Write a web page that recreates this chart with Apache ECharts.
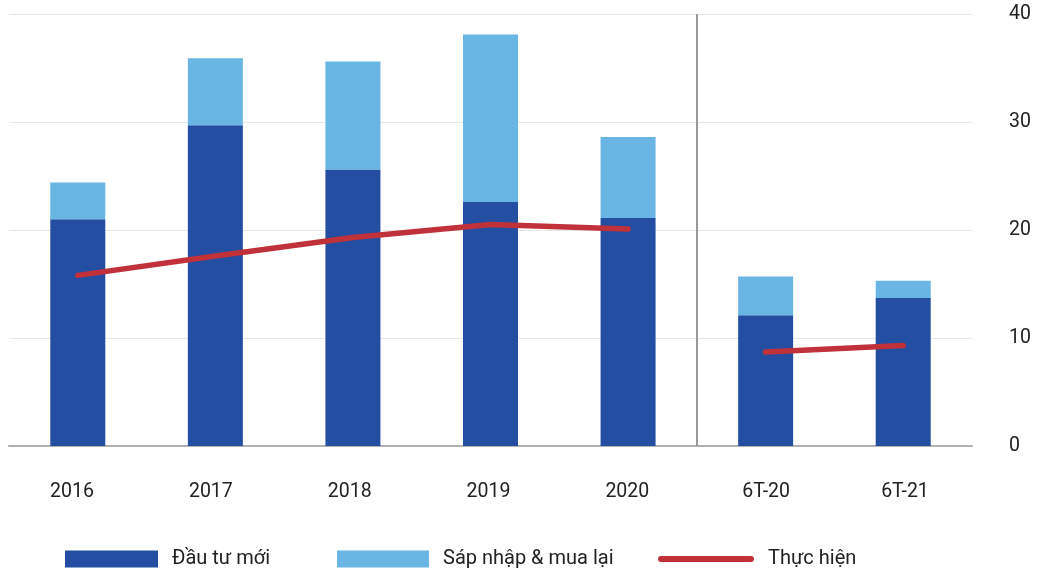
<!DOCTYPE html>
<html>
<head>
<meta charset="utf-8">
<script src="https://cdn.jsdelivr.net/npm/echarts@6/dist/echarts.min.js"></script>
<style>
  html, body { margin: 0; padding: 0; background: #fff; }
  #chart { width: 1040px; height: 573px; }
</style>
</head>
<body>
<div id="chart"></div>
<script>
// categories and values
const categories = ['2016', '2017', '2018', '2019', '2020', '6T-20', '6T-21']
const newInvest = [21.0, 29.7, 25.6, 22.6, 21.1, 12.1, 13.7]
const mergers   = [3.4, 6.2, 10.0, 15.5, 7.5, 3.6, 1.6]
// realised values, split so the line breaks between full years and half years
const realisedYears = [15.8, 17.6, 19.3, 20.5, 20.1, null, null]
const realisedHalf  = [null, null, null, null, null, 8.7, 9.3]

const DARK = '#234ea1'
const LIGHT = '#69b5e4'
const RED = '#c1313a'
const TEXT = '#222'
const FONT = 'Roboto'

const chart = echarts.init(document.getElementById('chart'))

const lineSeries = (data) => ({
  name: 'Thực hiện',
  type: 'line',
  data: data,
  symbol: 'none',
  connectNulls: false,
  lineStyle: { color: RED, width: 5.5, cap: 'round' },
  itemStyle: { color: RED },
  z: 5
})

const legendItem = (name, left, icon, width) => ({
  left: left,
  top: 549,
  padding: 0,
  itemWidth: width,
  itemHeight: 17,
  textStyle: { fontFamily: FONT, fontSize: 20, color: TEXT, padding: [0, 0, 0, 9] },
  data: [{ name: name, icon: icon }]
})

chart.setOption({
  animation: false,
  textStyle: { fontFamily: FONT },
  grid: [
    { left: 9, right: 68, top: 14, bottom: 127 },
    // labels only; the category labels sit on a slightly wider pitch than the bars
    { left: 2.6, right: 65.6, top: 14, bottom: 127 }
  ],
  legend: [
    legendItem('Đầu tư mới', 65, 'rect', 93),
    legendItem('Sáp nhập & mua lại', 337, 'rect', 92),
    legendItem('Thực hiện', 658, 'path://M3,0 H93 A3,3 0 0 1 93,6 H3 A3,3 0 0 1 3,0 Z', 96)
  ],
  xAxis: [
    {
      type: 'category',
      data: categories,
      gridIndex: 0,
      axisLine: { lineStyle: { color: '#b0b0b0', width: 2 } },
      axisTick: { show: false },
      axisLabel: { show: false },
      splitLine: { show: false }
    },
    {
      // hidden helper axis for the separator line
      type: 'value',
      gridIndex: 0,
      min: -0.5,
      max: 6.5,
      show: false
    },
    {
      type: 'category',
      data: categories,
      gridIndex: 1,
      axisLine: { show: false },
      axisTick: { show: false },
      axisLabel: { fontSize: 19.5, color: TEXT, margin: 36, fontFamily: FONT },
      splitLine: { show: false }
    }
  ],
  yAxis: [
    {
      type: 'value',
      gridIndex: 0,
      position: 'right',
      min: 0,
      max: 40,
      interval: 10,
      axisLine: { show: false },
      axisTick: { show: false },
      axisLabel: { fontSize: 19.5, color: TEXT, margin: 37, align: 'left', fontFamily: FONT },
      splitLine: { lineStyle: { color: '#e6e6e6', width: 1 } }
    },
    { type: 'value', gridIndex: 1, show: false }
  ],
  series: [
    {
      name: 'Đầu tư mới',
      type: 'bar',
      stack: 'total',
      barWidth: 55,
      data: newInvest,
      itemStyle: { color: DARK }
    },
    {
      name: 'Sáp nhập & mua lại',
      type: 'bar',
      stack: 'total',
      barWidth: 55,
      data: mergers,
      itemStyle: { color: LIGHT }
    },
    lineSeries(realisedYears),
    lineSeries(realisedHalf),
    {
      // separator between full years and half-year periods
      name: 'separator',
      type: 'scatter',
      xAxisIndex: 1,
      yAxisIndex: 0,
      data: [],
      markLine: {
        silent: true,
        symbol: 'none',
        label: { show: false },
        lineStyle: { color: '#999', width: 2, type: 'solid' },
        data: [{ xAxis: 4.5 }]
      }
    }
  ]
})
</script>
</body>
</html>
